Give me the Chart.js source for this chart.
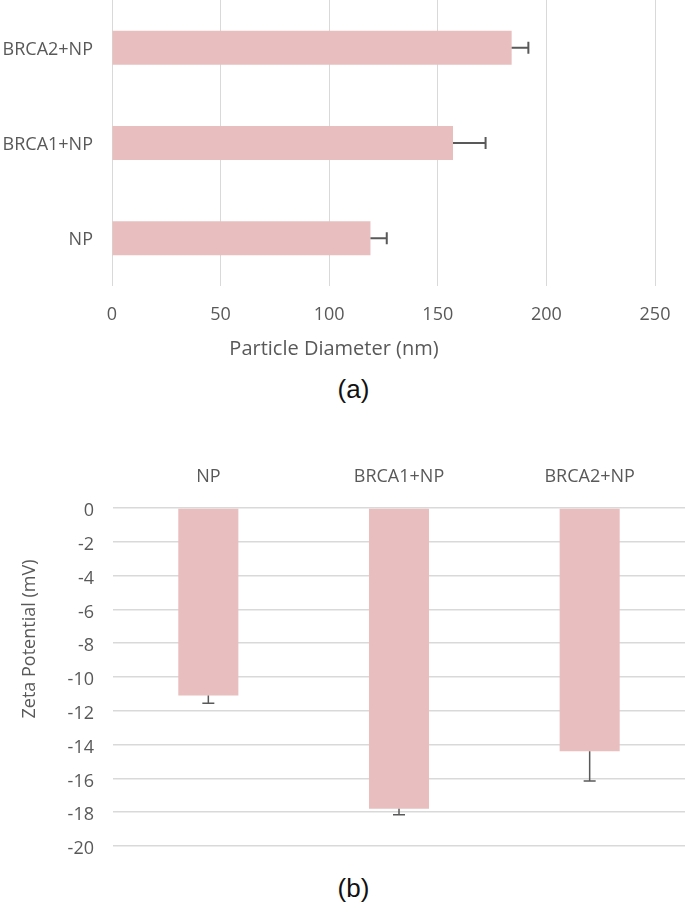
<!DOCTYPE html>
<html><head><meta charset="utf-8">
<script src="https://cdn.jsdelivr.net/npm/chart.js@4.4.0/dist/chart.umd.min.js"></script>
<style>
html,body{margin:0;padding:0;background:#fff;width:685px;height:912px;overflow:hidden;}
#c1{position:absolute;left:0;top:0;}
#c2{position:absolute;left:0;top:450px;}
.lab{position:absolute;width:685px;left:11px;text-align:center;font-family:"Liberation Sans",Arial,sans-serif;font-size:26px;line-height:30px;color:#111;}
</style></head><body>
<canvas id="c1" width="685" height="370"></canvas>
<div class="lab" style="top:374px;">(a)</div>
<canvas id="c2" width="685" height="415"></canvas>
<div class="lab" style="top:873px;">(b)</div>
<script>
const categories = ['NP', 'BRCA1+NP', 'BRCA2+NP'];
const diameterValues = [119, 157, 184];
const diameterErrors = [7.5, 15, 7.7];
const diameterTicks = [0, 50, 100, 150, 200, 250];
const zetaValues = [-11.1, -17.8, -14.4];
const zetaErrors = [0.45, 0.35, 1.75];
const zetaTicks = [0, -2, -4, -6, -8, -10, -12, -14, -16, -18, -20];

const FONT = '"Open Sans", sans-serif';
const TXT = '#595959';
const BAR = 'rgb(232,190,190)';
const GRID = '#d9d9d9';

const errorBarPlugin = {
  id: 'errorBars',
  afterDatasetsDraw(chart, args, opts) {
    const meta = chart.getDatasetMeta(0);
    const ds = chart.data.datasets[0];
    const ctx = chart.ctx;
    const horiz = chart.options.indexAxis === 'y';
    const vs = horiz ? chart.scales.x : chart.scales.y;
    ctx.save();
    ctx.strokeStyle = opts.color;
    ctx.lineWidth = opts.width;
    meta.data.forEach((bar, i) => {
      const v = ds.data[i];
      const e = opts.errors[i];
      const end = v + Math.sign(v) * e;
      const p0 = vs.getPixelForValue(v), p1 = vs.getPixelForValue(end);
      ctx.beginPath();
      if (horiz) {
        const y = bar.y;
        ctx.moveTo(p0, y); ctx.lineTo(p1, y);
        ctx.moveTo(p1, y - opts.cap); ctx.lineTo(p1, y + opts.cap);
      } else {
        const x = bar.x;
        ctx.moveTo(x, p0); ctx.lineTo(x, p1);
        ctx.moveTo(x - opts.cap, p1); ctx.lineTo(x + opts.cap, p1);
      }
      ctx.stroke();
    });
    ctx.restore();
  }
};

const freeTitlePlugin = {
  id: 'freeTitle',
  afterDraw(chart, args, opts) {
    if (!opts.text) return;
    const ctx = chart.ctx;
    ctx.save();
    ctx.translate(opts.x, opts.y);
    if (opts.rotate) ctx.rotate(-Math.PI / 2);
    ctx.font = opts.font;
    ctx.fillStyle = opts.color;
    ctx.textAlign = 'center';
    ctx.textBaseline = 'middle';
    ctx.fillText(opts.text, 0, 0);
    ctx.restore();
  }
};

new Chart(document.getElementById('c1'), {
  type: 'bar',
  data: { labels: categories, datasets: [{ data: diameterValues, backgroundColor: BAR, categoryPercentage: 1, barPercentage: 0.356 }] },
  plugins: [errorBarPlugin, freeTitlePlugin],
  options: {
    responsive: false, animation: false, indexAxis: 'y',
    layout: { padding: { left: 0, right: 30, top: 0, bottom: 0 } },
    plugins: {
      legend: { display: false }, tooltip: { enabled: false },
      errorBars: { errors: diameterErrors, color: '#595959', width: 2, cap: 6 },
      freeTitle: { text: 'Particle Diameter (nm)', x: 334, y: 349, rotate: false, font: '20px ' + FONT, color: TXT }
    },
    scales: {
      x: {
        min: 0, max: 250,
        afterBuildTicks: s => { s.ticks = diameterTicks.map(v => ({ value: v })); },
        grid: { color: GRID, lineWidth: 1, drawTicks: false },
        border: { display: false },
        ticks: { padding: 18, color: TXT, font: { size: 18, family: FONT } },
        afterFit: s => { s.height = 84; s.paddingLeft = 0; s.paddingRight = 0; }
      },
      y: {
        reverse: true,
        grid: { display: false, drawTicks: false }, border: { display: false },
        ticks: { padding: 19, labelOffset: 2, color: TXT, font: { size: 18, family: FONT } },
        afterFit: s => { s.width = 112; s.paddingTop = 0; s.paddingBottom = 0; }
      }
    }
  }
});

new Chart(document.getElementById('c2'), {
  type: 'bar',
  data: { labels: categories, datasets: [{ data: zetaValues, backgroundColor: BAR, categoryPercentage: 1, barPercentage: 0.315 }] },
  plugins: [errorBarPlugin, freeTitlePlugin],
  options: {
    responsive: false, animation: false,
    layout: { padding: { left: 0, right: 0, top: 0, bottom: 19 } },
    plugins: {
      legend: { display: false }, tooltip: { enabled: false },
      errorBars: { errors: zetaErrors, color: '#595959', width: 1.5, cap: 6 },
      freeTitle: { text: 'Zeta Potential (mV)', x: 30, y: 189, rotate: true, font: '18px ' + FONT, color: TXT }
    },
    scales: {
      x: {
        position: 'top',
        grid: { display: false, drawTicks: false }, border: { display: false },
        ticks: { padding: 20, color: TXT, font: { size: 18, family: FONT } },
        afterFit: s => { s.height = 58; s.paddingLeft = 0; s.paddingRight = 0; }
      },
      y: {
        min: -20, max: 0,
        afterBuildTicks: s => { s.ticks = zetaTicks.map(v => ({ value: v })); },
        grid: { color: GRID, lineWidth: 1.5, drawTicks: false },
        border: { display: false },
        ticks: { padding: 19, labelOffset: 3, color: TXT, font: { size: 18, family: FONT } },
        afterFit: s => { s.width = 113; s.paddingTop = 0; s.paddingBottom = 0; }
      }
    }
  }
});
</script>
</body></html>
